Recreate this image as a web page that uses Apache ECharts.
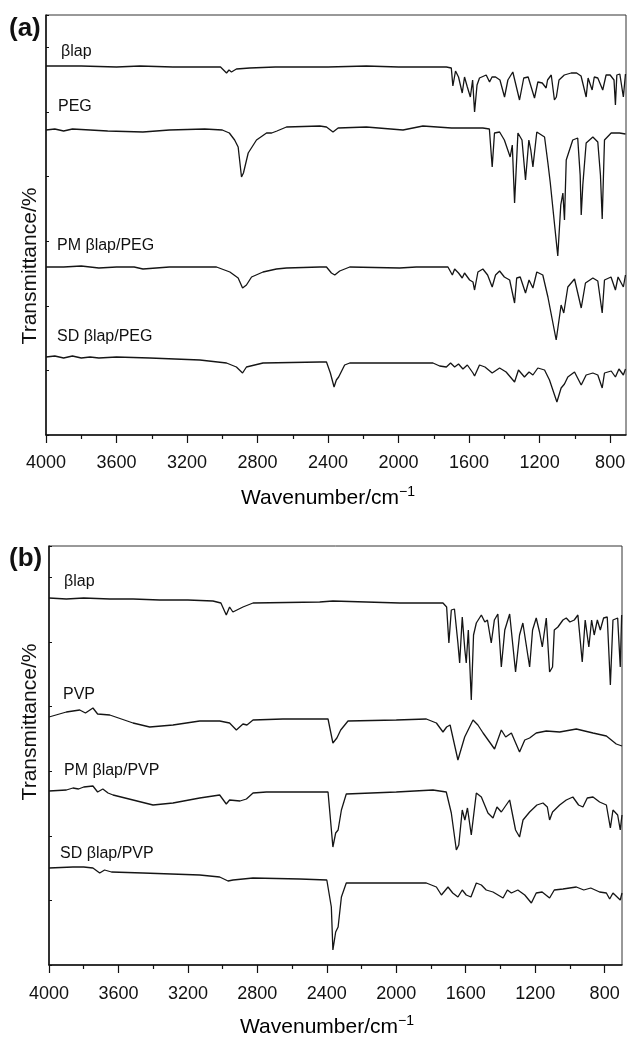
<!DOCTYPE html>
<html>
<head>
<meta charset="utf-8">
<script src="https://cdn.jsdelivr.net/npm/echarts@6/dist/echarts.min.js"></script>
<style>
  html, body { margin: 0; padding: 0; background: #fff; }
  #chart { width: 627px; height: 1039px; }
</style>
</head>
<body>
<div id="chart"></div>
<script>
// ---------- data (wavenumber cm-1, offset transmittance) ----------
const wnTicks = [4000, 3600, 3200, 2800, 2400, 2000, 1600, 1200, 800];
const wnMinor = [3800, 3400, 3000, 2600, 2200, 1800, 1400, 1000];

// panel (a)
const aLapLabel = 'βlap';
const aLap = [
  [4000, 369], [3800, 369], [3600, 368], [3467, 369], [3280, 368], [3100, 368], [3010, 368],
  [2976, 362], [2962, 365], [2948, 363], [2920, 366], [2844, 367], [2700, 368], [2561, 368],
  [2400, 368], [2183, 369], [2000, 368], [1800, 368], [1729, 368], [1701, 367], [1692, 349],
  [1677, 364], [1660, 358], [1639, 342], [1626, 358], [1610, 348], [1593, 338], [1580, 355],
  [1569, 323], [1555, 350], [1541, 357], [1503, 360], [1484, 353], [1470, 358], [1450, 358],
  [1425, 355], [1399, 338], [1380, 355], [1352, 363], [1314, 335], [1290, 357], [1265, 358],
  [1229, 337], [1210, 353], [1185, 352], [1163, 347], [1155, 355], [1134, 360], [1116, 335],
  [1105, 338], [1090, 355], [1060, 360], [1021, 362], [990, 362], [965, 359], [936, 338],
  [925, 357], [902, 345], [890, 358], [870, 357], [842, 345], [823, 360], [800, 360],
  [778, 355], [770, 330], [762, 360], [745, 361], [725, 338], [713, 361]
];
const aPegLabel = 'PEG';
const aPeg = [
  [4000, 305], [3950, 306], [3900, 304], [3850, 306], [3750, 305], [3650, 304], [3450, 303],
  [3300, 305], [3100, 306], [3000, 305], [2960, 302], [2930, 295], [2910, 288], [2891, 258],
  [2880, 262], [2853, 282], [2806, 295], [2749, 302], [2720, 302], [2690, 304], [2636, 308],
  [2447, 309], [2409, 308], [2372, 303], [2343, 307], [2183, 308], [1975, 305], [1862, 309],
  [1700, 307], [1522, 307], [1485, 306], [1469, 268], [1456, 302], [1427, 303], [1400, 295],
  [1367, 278], [1355, 290], [1342, 232], [1323, 302], [1300, 295], [1280, 255], [1261, 295],
  [1250, 285], [1238, 268], [1216, 303], [1172, 298], [1153, 272], [1140, 253], [1097, 179],
  [1080, 230], [1068, 242], [1059, 215], [1049, 275], [1012, 295], [984, 297], [970, 260],
  [964, 220], [955, 250], [936, 292], [898, 298], [870, 293], [855, 260], [845, 216],
  [832, 295], [794, 302], [747, 302], [713, 301]
];
const aPmLabel = 'PM βlap/PEG';
const aPm = [
  [4000, 168], [3900, 168], [3800, 169], [3700, 167], [3600, 168], [3500, 168], [3450, 166],
  [3300, 168], [3100, 168], [3033, 168], [2957, 163], [2910, 157], [2885, 147], [2863, 150],
  [2834, 158], [2769, 163], [2693, 166], [2636, 167], [2447, 168], [2409, 168], [2381, 162],
  [2362, 160], [2334, 164], [2277, 168], [1994, 167], [1900, 168], [1720, 168], [1695, 160],
  [1682, 166], [1660, 162], [1639, 157], [1626, 162], [1597, 155], [1578, 153], [1569, 145],
  [1550, 163], [1522, 166], [1495, 160], [1469, 148], [1450, 160], [1427, 164], [1400, 158],
  [1370, 155], [1342, 132], [1330, 157], [1310, 158], [1280, 142], [1260, 155], [1238, 147],
  [1216, 163], [1182, 160], [1153, 138], [1106, 95], [1078, 130], [1063, 122], [1040, 148],
  [1002, 156], [964, 127], [940, 152], [898, 157], [870, 154], [845, 122], [832, 155],
  [795, 158], [770, 145], [755, 158], [725, 148], [713, 160]
];
const aSdLabel = 'SD βlap/PEG';
const aSd = [
  [4000, 78], [3950, 79], [3900, 77], [3850, 79], [3800, 77], [3750, 78], [3700, 77],
  [3600, 78], [3411, 77], [3127, 75], [2976, 72], [2920, 68], [2885, 62], [2863, 68],
  [2769, 72], [2447, 73], [2409, 73], [2387, 62], [2366, 48], [2353, 55], [2340, 58],
  [2306, 70], [2277, 72], [2013, 72], [1805, 72], [1767, 69], [1729, 68], [1705, 72],
  [1682, 68], [1660, 71], [1635, 66], [1610, 70], [1578, 62], [1569, 59], [1541, 70],
  [1510, 68], [1469, 62], [1427, 67], [1390, 63], [1342, 53], [1320, 65], [1286, 58],
  [1260, 63], [1238, 60], [1210, 67], [1172, 65], [1144, 55], [1102, 33], [1078, 47],
  [1059, 51], [1040, 58], [1002, 63], [964, 50], [936, 60], [898, 62], [870, 60],
  [845, 47], [832, 62], [794, 64], [770, 58], [750, 66], [725, 60], [713, 66]
];

// panel (b)
const bLapLabel = 'βlap';
const bLap = [
  [4000, 367], [3900, 366], [3800, 367], [3650, 366], [3516, 366], [3363, 365], [3200, 365],
  [3056, 364], [3010, 362], [2979, 350], [2960, 358], [2941, 353], [2883, 358], [2825, 362],
  [2441, 363], [2365, 364], [1981, 362], [1731, 362], [1710, 358], [1697, 322], [1683, 355],
  [1665, 356], [1645, 322], [1635, 302], [1620, 348], [1605, 315], [1597, 302], [1585, 335],
  [1568, 265], [1555, 330], [1539, 342], [1510, 350], [1490, 343], [1475, 345], [1453, 322],
  [1435, 345], [1415, 351], [1395, 298], [1375, 335], [1347, 351], [1313, 293], [1290, 330],
  [1271, 342], [1232, 298], [1215, 335], [1194, 347], [1175, 333], [1159, 318], [1136, 347],
  [1117, 293], [1100, 298], [1090, 335], [1069, 338], [1040, 345], [1021, 347], [1000, 343],
  [975, 345], [954, 350], [929, 303], [912, 345], [891, 318], [875, 345], [860, 330],
  [842, 345], [825, 335], [806, 347], [785, 348], [767, 280], [752, 345], [725, 347],
  [710, 298], [702, 350], [700, 350]
];
const bPvpLabel = 'PVP';
const bPvp = [
  [4000, 248], [3900, 253], [3823, 255], [3790, 252], [3747, 257], [3720, 251], [3650, 250],
  [3516, 242], [3420, 238], [3286, 240], [3132, 244], [3017, 244], [2960, 242], [2921, 235],
  [2883, 241], [2860, 240], [2825, 245], [2653, 246], [2556, 246], [2393, 246], [2365, 222],
  [2342, 227], [2320, 235], [2278, 244], [2000, 245], [1827, 246], [1769, 242], [1731, 233],
  [1710, 238], [1690, 240], [1645, 205], [1606, 228], [1558, 245], [1530, 240], [1500, 232],
  [1434, 216], [1395, 235], [1370, 228], [1337, 232], [1290, 213], [1260, 225], [1232, 227],
  [1194, 232], [1136, 234], [1059, 233], [963, 236], [867, 232], [790, 229], [733, 221],
  [700, 219]
];
const bPmLabel = 'PM βlap/PVP';
const bPm = [
  [4000, 174], [3900, 175], [3862, 177], [3830, 176], [3800, 178], [3747, 179], [3720, 173],
  [3690, 176], [3660, 172], [3631, 170], [3516, 165], [3401, 160], [3286, 162], [3132, 167],
  [3017, 170], [2979, 161], [2960, 165], [2900, 164], [2863, 166], [2825, 172], [2748, 173],
  [2556, 173], [2393, 173], [2365, 118], [2349, 132], [2335, 135], [2316, 155], [2288, 171],
  [2000, 173], [1789, 175], [1712, 173], [1683, 152], [1654, 115], [1640, 120], [1620, 155],
  [1605, 145], [1590, 157], [1568, 130], [1539, 172], [1510, 168], [1472, 152], [1443, 147],
  [1420, 158], [1395, 153], [1347, 165], [1313, 135], [1290, 128], [1270, 145], [1232, 153],
  [1190, 160], [1155, 162], [1130, 158], [1117, 145], [1100, 153], [1059, 160], [1021, 165],
  [983, 168], [950, 160], [925, 158], [900, 167], [867, 168], [829, 163], [790, 160],
  [767, 137], [752, 155], [725, 150], [710, 135], [700, 150]
];
const bSdLabel = 'SD βlap/PVP';
const bSd = [
  [4000, 97], [3862, 98], [3800, 98], [3747, 97], [3708, 92], [3680, 95], [3640, 93],
  [3459, 92], [3132, 90], [3017, 88], [2969, 84], [2940, 85], [2825, 87], [2556, 86],
  [2400, 85], [2374, 58], [2365, 15], [2349, 33], [2335, 38], [2316, 68], [2288, 82],
  [2000, 82], [1827, 82], [1769, 78], [1740, 70], [1702, 78], [1675, 72], [1645, 68],
  [1620, 75], [1597, 70], [1570, 68], [1539, 82], [1510, 80], [1482, 75], [1443, 73],
  [1385, 67], [1360, 75], [1337, 72], [1300, 75], [1260, 70], [1222, 62], [1194, 72],
  [1160, 73], [1117, 67], [1090, 75], [1040, 76], [963, 78], [920, 75], [880, 77],
  [829, 73], [790, 72], [771, 66], [752, 72], [710, 65], [700, 72]
];

// ---------- layout ----------
const FONT = '"Liberation Sans", Arial, Helvetica, sans-serif';
const INK = '#151515';

const panels = [
  { grid: { left: 46, top: 15, width: 580, height: 420 }, min: 710, yMax: 420, labelMargin: 19 },
  { grid: { left: 49, top: 546, width: 573, height: 419 }, min: 700, yMax: 419, labelMargin: 20 }
];

const xAxes = [];
const yAxes = [];
panels.forEach((p, i) => {
  xAxes.push({
    type: 'value', gridIndex: i, position: 'bottom', inverse: true, min: p.min, max: 4000,
    axisLine: { show: true, lineStyle: { color: '#111', width: 1.5 } },
    axisTick: { show: true, inside: false, length: 8, customValues: wnTicks, lineStyle: { color: '#111', width: 1.2 } },
    axisLabel: {
      show: true, customValues: wnTicks, margin: p.labelMargin, fontFamily: FONT, fontSize: 18, color: '#111',
      formatter: v => String(v)
    },
    splitLine: { show: false }
  });
  xAxes.push({
    type: 'value', gridIndex: i, position: 'bottom', inverse: true, min: p.min, max: 4000,
    axisLine: { show: false },
    axisTick: { show: true, inside: false, length: 4, customValues: wnMinor, lineStyle: { color: '#111', width: 1.2 } },
    axisLabel: { show: false },
    splitLine: { show: false }
  });
  yAxes.push({
    type: 'value', gridIndex: i, min: 0, max: p.yMax, interval: 64.6,
    axisLine: { show: true, lineStyle: { color: '#111', width: 1.5 } },
    axisTick: { show: true, inside: true, length: 3, lineStyle: { color: '#111', width: 1 } },
    axisLabel: { show: false },
    splitLine: { show: false }
  });
});

const line = (data, panel) => ({
  type: 'line', data, xAxisIndex: panel * 2, yAxisIndex: panel,
  symbol: 'none', showSymbol: false, silent: true,
  lineStyle: { color: INK, width: 1.3 }
});

const txt = (text, x, y, size, extra) => ({
  type: 'text', x, y, silent: true,
  style: Object.assign({ text, font: size + 'px ' + FONT, fill: '#111', align: 'left', verticalAlign: 'middle' }, extra || {})
});

const wnName = (cx, cy) => ({
  type: 'text', x: cx, y: cy, silent: true,
  style: {
    text: '{a|Wavenumber/cm}{b|−1}',
    align: 'center', verticalAlign: 'middle',
    rich: {
      a: { fontFamily: FONT, fontSize: 21, color: '#111', lineHeight: 26 },
      b: { fontFamily: FONT, fontSize: 14, color: '#111', verticalAlign: 'top', lineHeight: 14 }
    }
  }
});

const yName = (cx, cy) => ({
  type: 'text', x: cx, y: cy, rotation: Math.PI / 2, silent: true,
  style: { text: 'Transmittance/%', font: '21px ' + FONT, fill: '#111', align: 'center', verticalAlign: 'middle' }
});

const chart = echarts.init(document.getElementById('chart'), null, { renderer: 'canvas' });
chart.setOption({
  backgroundColor: '#fff',
  animation: false,
  grid: panels.map(p => Object.assign({
    show: true, borderColor: '#333', borderWidth: 1, backgroundColor: 'transparent',
    containLabel: false, outerBoundsMode: 'none'
  }, p.grid)),
  xAxis: xAxes,
  yAxis: yAxes,
  series: [
    line(aLap, 0), line(aPeg, 0), line(aPm, 0), line(aSd, 0),
    line(bLap, 1), line(bPvp, 1), line(bPm, 1), line(bSd, 1)
  ],
  graphic: [
    txt('(a)', 9, 29, 26, { font: 'bold 26px ' + FONT }),
    txt('(b)', 9, 559, 26, { font: 'bold 26px ' + FONT }),
    yName(30, 266),
    yName(30, 722),
    wnName(328, 498),
    wnName(327, 1027),
    txt(aLapLabel, 61, 52, 16),
    txt(aPegLabel, 58, 107, 16),
    txt(aPmLabel, 57, 246, 16),
    txt(aSdLabel, 57, 337, 16),
    txt(bLapLabel, 64, 582, 16),
    txt(bPvpLabel, 63, 695, 16),
    txt(bPmLabel, 64, 771, 16),
    txt(bSdLabel, 60, 854, 16)
  ]
});
</script>
</body>
</html>
